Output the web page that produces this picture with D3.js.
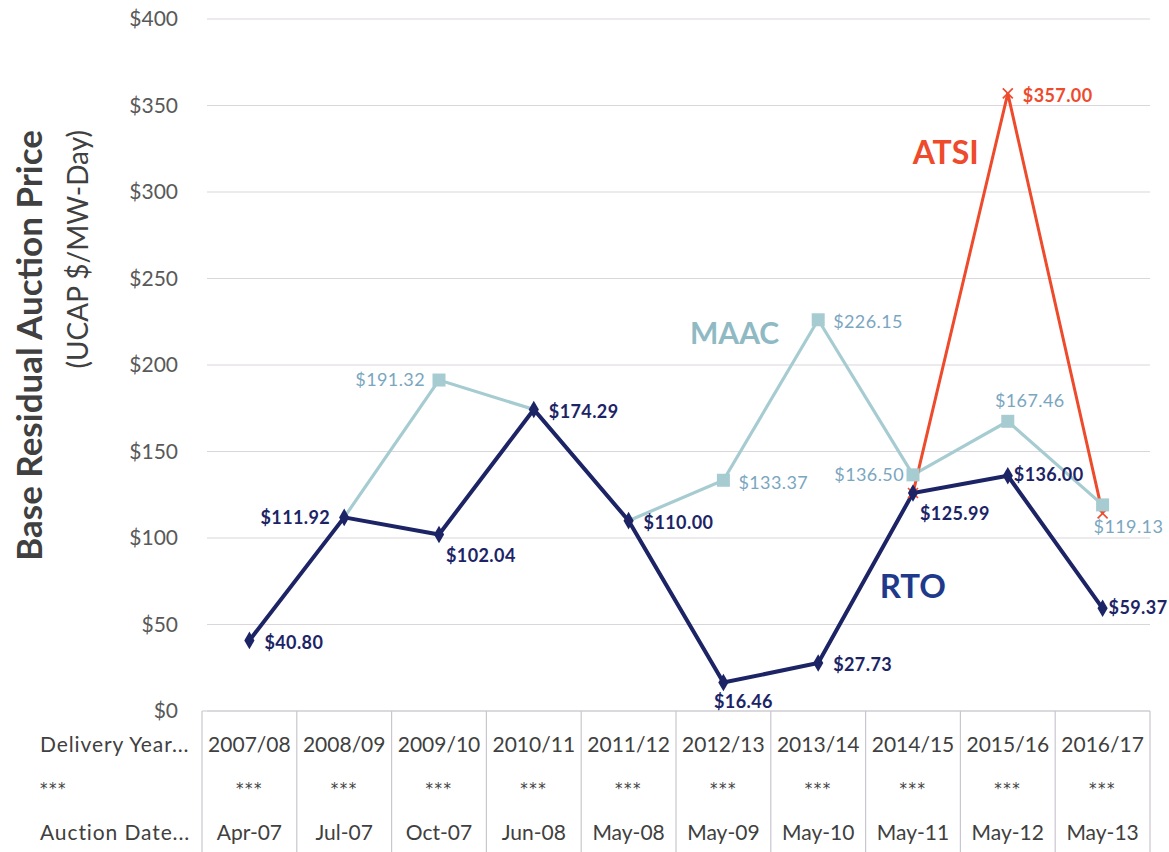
<!DOCTYPE html>
<html>
<head>
<meta charset="utf-8">
<script src="https://cdn.jsdelivr.net/npm/d3@7"></script>
<style>
  body { margin: 0; background: #fff; }
  svg { font-family: Lato, "Open Sans", sans-serif; }
</style>
</head>
<body>
<div id="chart"></div>
<script>
// Data
const deliveryYears = ['2007/08', '2008/09', '2009/10', '2010/11', '2011/12', '2012/13', '2013/14', '2014/15', '2015/16', '2016/17'];
const auctionDates = ['Apr-07', 'Jul-07', 'Oct-07', 'Jun-08', 'May-08', 'May-09', 'May-10', 'May-11', 'May-12', 'May-13'];
const rtoValues = [40.80, 111.92, 102.04, 174.29, 110.00, 16.46, 27.73, 125.99, 136.00, 59.37];
const maacValues = [null, 111.92, 191.32, 174.29, 110.00, 133.37, 226.15, 136.50, 167.46, 119.13];
const atsiValues = [null, null, null, null, null, null, null, 125.99, 357.00, 114.23];
const yTicks = [0, 50, 100, 150, 200, 250, 300, 350, 400];

// Where each value label sits relative to its point
const rtoLabelPos = ['r', 'l', 'br', 'r', 'r', 'b', 'r', 'br', 'rc', 'rc'];
const maacLabelPos = [null, null, 'l', null, null, 'r', 'r', 'lc', 't', 'bl'];
const atsiLabelPos = [null, null, null, null, null, null, null, null, 'r', null];
const labelOffsets = {
  r: {dx: 15, dy: 2, anchor: 'start'},
  rc: {dx: 6, dy: -1, anchor: 'start'},
  l: {dx: -14, dy: 0, anchor: 'end'},
  lc: {dx: -9, dy: 0, anchor: 'end'},
  br: {dx: 7, dy: 21, anchor: 'start'},
  bl: {dx: -9, dy: 22, anchor: 'start'},
  b: {dx: 20, dy: 19, anchor: 'middle'},
  t: {dx: 22, dy: -21, anchor: 'middle'}
};

const width = 1169;
const height = 852;
const margin = {left: 202, right: 19, top: 19, bottom: 141};

const colors = {rto: '#1c2466', maac: '#a6ccd1', maacText: '#7aa6bf', atsi: '#ee4a2c', grid: '#d9d6dc', text: '#595959'};

const svg = d3.select('#chart').append('svg')
  .attr('width', width)
  .attr('height', height);

const x = d3.scaleBand()
  .domain(deliveryYears)
  .range([margin.left, width - margin.right]);

const y = d3.scaleLinear()
  .domain([0, 400])
  .range([height - margin.bottom, margin.top]);

const cx = i => x(deliveryYears[i]) + x.bandwidth() / 2;

// Gridlines and y tick labels
svg.append('g')
  .selectAll('line')
  .data(yTicks)
  .join('line')
    .attr('x1', margin.left + 5)
    .attr('x2', width - margin.right)
    .attr('y1', d => y(d))
    .attr('y2', d => y(d))
    .attr('stroke', colors.grid)
    .attr('stroke-width', 1.2);

svg.append('g')
  .selectAll('text')
  .data(yTicks)
  .join('text')
    .attr('x', 178)
    .attr('y', d => y(d))
    .attr('dy', '0.35em')
    .attr('text-anchor', 'end')
    .attr('fill', colors.text)
    .style('font-size', '21px')
    .text(d => `$${d}`);

// Y axis title (both lines end at the same height)
const yTitle = svg.append('g')
  .attr('transform', `translate(30, 130) rotate(-90)`);
yTitle.append('text')
  .attr('text-anchor', 'end')
  .attr('dy', '0.35em')
  .attr('fill', '#404040')
  .style('font-size', '35px')
  .style('font-weight', 'bold')
  .text('Base Residual Auction Price');
yTitle.append('text')
  .attr('y', 48)
  .attr('text-anchor', 'end')
  .attr('dy', '0.35em')
  .attr('fill', '#404040')
  .style('font-size', '28px')
  .text('(UCAP $/MW-Day)');

// Data table under the axis
const tableTop = y(0);
const table = svg.append('g').attr('class', 'data-table');
table.append('line')
  .attr('x1', margin.left).attr('x2', width - margin.right)
  .attr('y1', tableTop).attr('y2', tableTop)
  .attr('stroke', '#c9c6cf').attr('stroke-width', 1.2);
table.selectAll('.col-line')
  .data(deliveryYears.concat(['end']))
  .join('line')
    .attr('class', 'col-line')
    .attr('x1', (d, i) => margin.left + i * x.bandwidth())
    .attr('x2', (d, i) => margin.left + i * x.bandwidth())
    .attr('y1', tableTop)
    .attr('y2', height)
    .attr('stroke', '#c9c6cf')
    .attr('stroke-width', 1.2);

const rows = [
  {label: 'Delivery Year...', values: deliveryYears, y: 745},
  {label: '***', values: deliveryYears.map(() => '***'), y: 785},
  {label: 'Auction Date...', values: auctionDates, y: 833}
];
rows.forEach(row => {
  const stars = row.label === '***';
  table.append('text')
    .attr('x', 40)
    .attr('y', row.y + (stars ? 4 : 0))
    .attr('dy', '0.35em')
    .attr('fill', '#404040')
    .style('font-family', stars ? '"DejaVu Sans", sans-serif' : null)
    .style('font-size', stars ? '15px' : '21px')
    .style('letter-spacing', stars ? '1.5px' : '0.9px')
    .text(row.label);
  table.selectAll(null)
    .data(row.values)
    .join('text')
      .attr('x', (d, i) => cx(i))
      .attr('y', row.y + (stars ? 4 : 0))
      .attr('dy', '0.35em')
      .attr('text-anchor', 'middle')
      .attr('fill', '#404040')
      .style('font-family', stars ? '"DejaVu Sans", sans-serif' : null)
      .style('font-size', stars ? '15px' : '21px')
      .style('letter-spacing', stars ? '1.5px' : '0px')
      .text(d => d);
});

// Lines
const line = d3.line()
  .defined(d => d != null)
  .x((d, i) => cx(i))
  .y(d => y(d));

svg.append('path')
  .datum(maacValues)
  .attr('fill', 'none')
  .attr('stroke', colors.maac)
  .attr('stroke-width', 3.2)
  .attr('d', line);

svg.append('path')
  .datum(atsiValues)
  .attr('fill', 'none')
  .attr('stroke', colors.atsi)
  .attr('stroke-width', 3)
  .attr('d', line);

svg.append('path')
  .datum(rtoValues)
  .attr('fill', 'none')
  .attr('stroke', colors.rto)
  .attr('stroke-width', 4)
  .attr('d', line);

// Markers
const atsiPoints = atsiValues.map((v, i) => ({v, i})).filter(d => d.v != null);
svg.append('g')
  .selectAll('path')
  .data(atsiPoints)
  .join('path')
    .attr('d', d => {
      const px = cx(d.i), py = y(d.v), s = 5;
      return `M${px - s},${py - s}L${px + s},${py + s}M${px - s},${py + s}L${px + s},${py - s}`;
    })
    .attr('stroke', colors.atsi)
    .attr('stroke-width', 1.6);

const maacPoints = maacValues.map((v, i) => ({v, i})).filter(d => d.v != null && d.v !== rtoValues[d.i]);
svg.append('g')
  .selectAll('rect')
  .data(maacPoints)
  .join('rect')
    .attr('x', d => cx(d.i) - 6.5)
    .attr('y', d => y(d.v) - 6.5)
    .attr('width', 13)
    .attr('height', 13)
    .attr('fill', colors.maac);

svg.append('g')
  .selectAll('path')
  .data(rtoValues)
  .join('path')
    .attr('transform', (d, i) => `translate(${cx(i)},${y(d)})`)
    .attr('d', d3.symbol(d3.symbolDiamond, 90))
    .attr('fill', colors.rto);

// Value labels
const fmt = d => `$${d3.format('.2f')(d)}`;
function addLabels(values, positions, color, weight) {
  const items = values.map((v, i) => ({v, i, pos: labelOffsets[positions[i]]})).filter(d => d.v != null && d.pos);
  svg.append('g')
    .selectAll('text')
    .data(items)
    .join('text')
      .attr('x', d => cx(d.i) + d.pos.dx)
      .attr('y', d => y(d.v) + d.pos.dy)
      .attr('dy', '0.35em')
      .attr('text-anchor', d => d.pos.anchor)
      .attr('fill', color)
      .style('font-size', '18px')
      .style('letter-spacing', '0.4px')
      .style('font-weight', weight)
      .text(d => fmt(d.v));
}
addLabels(maacValues, maacLabelPos, colors.maacText, 'normal');
addLabels(atsiValues, atsiLabelPos, colors.atsi, 'bold');
addLabels(rtoValues, rtoLabelPos, colors.rto, 'bold');

// Series names
const seriesNames = [
  {name: 'MAAC', color: '#8fbac3', size: 30, i: 6, v: 226.15, dx: -39, dy: 14},
  {name: 'ATSI', color: colors.atsi, size: 32, i: 8, v: 357.00, dx: -29, dy: 59},
  {name: 'RTO', color: '#1f3a8a', size: 33, i: 7, v: 125.99, dx: 33, dy: 93}
];
svg.append('g')
  .selectAll('text')
  .data(seriesNames)
  .join('text')
    .attr('x', d => cx(d.i) + d.dx)
    .attr('y', d => y(d.v) + d.dy)
    .attr('dy', '0.35em')
    .attr('text-anchor', 'end')
    .attr('fill', d => d.color)
    .style('font-size', d => `${d.size}px`)
    .style('font-weight', 'bold')
    .text(d => d.name);
</script>
</body>
</html>
